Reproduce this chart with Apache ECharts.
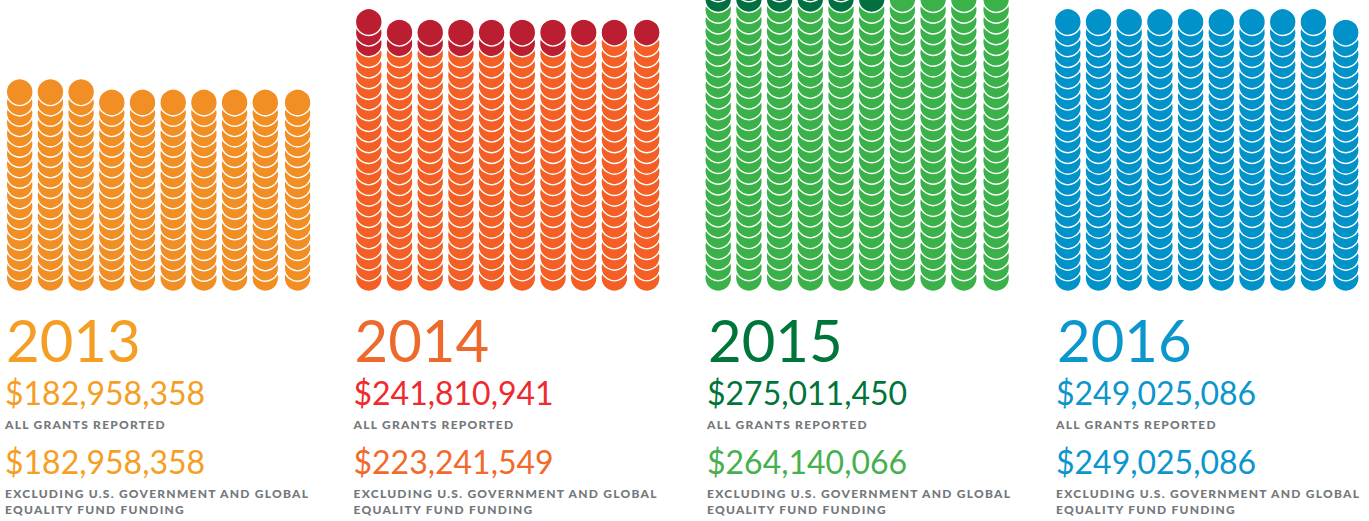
<!DOCTYPE html>
<html>
<head>
<meta charset="utf-8">
<style>
	html, body { margin: 0; padding: 0; background: #fff; }
	#main { width: 1369px; height: 521px; }
	/* echarts has no letter spacing option, the svg text picks it up from here */
	#main text[style*="900"] { letter-spacing: 1.25px; }
</style>
<script src="https://cdn.jsdelivr.net/npm/echarts@6/dist/echarts.min.js"></script>
</head>
<body>
<div id="main"></div>
<script>
// one coin = 1 million dollars, counted per column of coins
var years = ['2013', '2014', '2015', '2016'];
var allGrants = ['$182,958,358', '$241,810,941', '$275,011,450', '$249,025,086'];
var excludingGrants = ['$182,958,358', '$223,241,549', '$264,140,066', '$249,025,086'];
var allLabel = 'ALL GRANTS REPORTED';
var excludingLabel = ['EXCLUDING U.S. GOVERNMENT AND GLOBAL', 'EQUALITY FUND FUNDING'];

var excludedCoins2013 = [19, 19, 19, 18, 18, 18, 18, 18, 18, 18];
var excludedCoins2014 = [22, 22, 22, 22, 22, 22, 22, 23, 23, 23];
var excludedCoins2015 = [26, 26, 26, 26, 26, 26, 27, 27, 27, 27];
var excludedCoins2016 = [25, 25, 25, 25, 25, 25, 25, 25, 25, 24];

var extraCoins2013 = [0, 0, 0, 0, 0, 0, 0, 0, 0, 0];
var extraCoins2014 = [3, 2, 2, 2, 2, 2, 2, 1, 1, 1];
var extraCoins2015 = [2, 2, 2, 2, 2, 1, 0, 0, 0, 0];
var extraCoins2016 = [0, 0, 0, 0, 0, 0, 0, 0, 0, 0];

var excludedCoins = [excludedCoins2013, excludedCoins2014, excludedCoins2015, excludedCoins2016];
var extraCoins = [extraCoins2013, extraCoins2014, extraCoins2015, extraCoins2016];

var coinColor = ['#f18e24', '#f35f25', '#3bb14a', '#0092c8'];
var extraColor = ['#f18e24', '#bb1e31', '#016f40', '#0092c8'];
var yearColor = ['#f59e23', '#ee6a2c', '#00753a', '#0b96cc'];
var allColor = ['#f59e23', '#ee2a2e', '#00753a', '#0b96cc'];
var excludingColor = ['#f59e23', '#f26a2b', '#46b04e', '#0b96cc'];
var labelColor = '#73787c';

var firstColumn = [19.7, 368.8, 718.2, 1067.8];
var textLeft = [5, 353.5, 707, 1056];
var yearLeft = [6, 354.5, 708, 1057];
var rowPitch = [10.33, 10.67, 10.73, 10.67];
var columnPitch = 30.7;
var gridHeight = 293;

// rows from `from` (exclusive) up to `to`, bottom coin first so upper coins sit on top
function coinPoints(fromCounts, toCounts) {
	var points = [];
	for (var c = 0; c < toCounts.length; c++) {
		for (var r = fromCounts[c] + 1; r <= toCounts[c]; r++) {
			points.push([c + 1, r]);
		}
	}
	return points;
}

function addText(titles, text, left, top, size, color, weight) {
	titles.push({
		text: text,
		left: left,
		top: top,
		padding: 0,
		textStyle: { fontFamily: 'Lato', fontSize: size, fontWeight: weight || 'normal', color: color }
	});
}

var grids = [], xAxes = [], yAxes = [], series = [], titles = [];
var noCoins = [0, 0, 0, 0, 0, 0, 0, 0, 0, 0];

years.forEach(function (year, i) {
	var yMin = 1 - 15 / rowPitch[i];
	var totals = excludedCoins[i].map(function (n, c) { return n + extraCoins[i][c]; });

	grids.push({ left: firstColumn[i] - columnPitch / 2, width: columnPitch * 10, top: 0, height: gridHeight });
	xAxes.push({ gridIndex: i, type: 'value', min: 0.5, max: 10.5, show: false });
	yAxes.push({ gridIndex: i, type: 'value', min: yMin, max: yMin + gridHeight / rowPitch[i], show: false });

	[
		{ name: year + ' excluding', data: coinPoints(noCoins, excludedCoins[i]), color: coinColor[i] },
		{ name: year + ' all grants', data: coinPoints(excludedCoins[i], totals), color: extraColor[i] }
	].forEach(function (part) {
		series.push({
			name: part.name,
			type: 'scatter',
			xAxisIndex: i,
			yAxisIndex: i,
			clip: false,
			symbol: 'circle',
			symbolSize: 26.8,
			// the last column sits a little further out than the others
			symbolOffset: function (value) { return value[0] === 10 ? [1.6, 0] : [0, 0]; },
			itemStyle: { color: part.color, borderColor: '#fff', borderWidth: 1.4, opacity: 1 },
			data: part.data
		});
	});

	addText(titles, year, yearLeft[i], 310, 58, yearColor[i]);
	addText(titles, allGrants[i], textLeft[i], 376, 32, allColor[i]);
	addText(titles, allLabel, textLeft[i], 418, 12, labelColor, 900);
	addText(titles, excludingGrants[i], textLeft[i], 445, 32, excludingColor[i]);
	addText(titles, excludingLabel[0], textLeft[i], 487, 12, labelColor, 900);
	addText(titles, excludingLabel[1], textLeft[i], 503, 12, labelColor, 900);
});

var chart = echarts.init(document.getElementById('main'), null, { renderer: 'svg' });
chart.setOption({
	backgroundColor: '#fff',
	animation: false,
	title: titles,
	grid: grids,
	xAxis: xAxes,
	yAxis: yAxes,
	series: series
});
</script>
</body>
</html>
